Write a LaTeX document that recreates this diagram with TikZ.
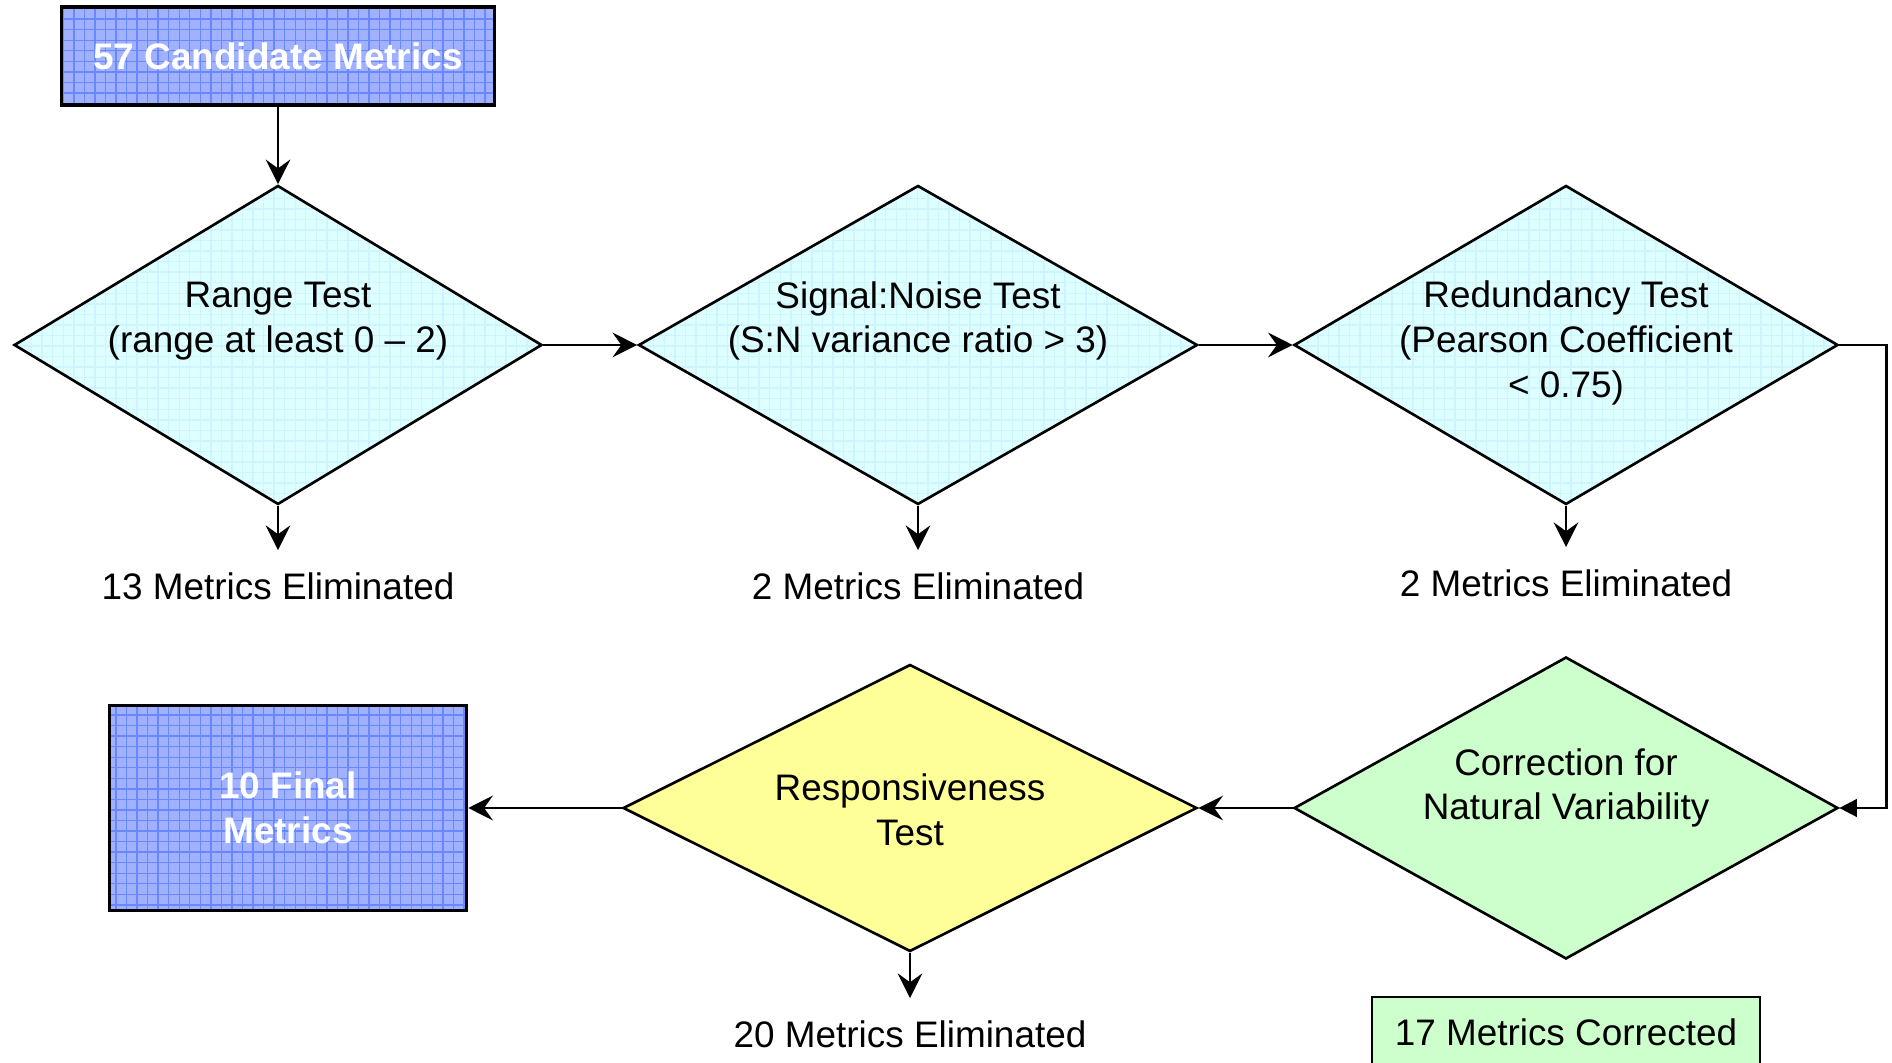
\documentclass[tikz,border=0pt]{standalone}
\usepackage{fontspec}
\setmainfont{Liberation Sans}
\usepackage{xcolor}
\usepackage{tikz}
\usetikzlibrary{positioning, arrows.meta, shapes.geometric, patterns}

\definecolor{gridblue}{RGB}{160,178,255}
\definecolor{gridline}{RGB}{105,135,255}
\definecolor{testcyan}{RGB}{222,255,255}
\definecolor{testcyanline}{RGB}{206,244,254}
\definecolor{corrgreen}{RGB}{204,255,204}
\definecolor{respyellow}{RGB}{255,255,153}

\begin{document}
\begin{tikzpicture}[node distance=6.4cm, every node/.style={font=\fontsize{10.5}{12.7}\selectfont}, align=center, line width=0.75pt, >={Stealth[length=7pt, width=7pt, inset=2.5pt]}]
    \tikzset{
        metricbox/.style={draw, line width=1pt, preaction={fill=gridblue}, pattern=grid, pattern color=gridline, text=white, font=\fontsize{10.5}{12.7}\selectfont\bfseries},
        testdiamond/.style={draw, diamond, inner sep=0pt, preaction={fill=testcyan}, pattern=grid, pattern color=testcyanline},
        elim/.style={inner sep=6pt}
    }
    \useasboundingbox (0,0) rectangle (18.92,10.63);

    \node (candidate) [metricbox, minimum width=4.33cm, minimum height=0.98cm] at (2.78,10.07) {57 Candidate Metrics};
    \node (range) [testdiamond, below of=candidate, node distance=2.89cm, minimum width=5.28cm, minimum height=3.19cm, label={[yshift=0.24cm]center:{Range Test\\(range at least 0 – 2)}}] {};
    \node (signal) [testdiamond, right of=range, minimum width=5.59cm, minimum height=3.19cm, label={[yshift=0.24cm]center:{Signal:Noise Test\\(S:N variance ratio > 3)}}] {};
    \node (redund) [testdiamond, right of=signal, xshift=0.08cm, minimum width=5.44cm, minimum height=3.19cm, label={[yshift=0.02cm]center:{Redundancy Test\\(Pearson Coefficient\\< 0.75)}}] {};
    \node (correct) [draw, diamond, inner sep=0pt, fill=corrgreen, below of=redund, node distance=4.63cm, minimum width=5.44cm, minimum height=3.02cm, label={[yshift=0.20cm]center:{Correction for\\Natural Variability}}] {};
    \node (respond) [draw, diamond, inner sep=0pt, fill=respyellow, left of=correct, node distance=6.56cm, minimum width=5.74cm, minimum height=2.87cm, label={[yshift=-0.02cm]center:{Responsiveness\\Test}}] {};
    \node (final) [metricbox, left of=respond, node distance=6.22cm, minimum width=3.57cm, minimum height=2.05cm] {10 Final\\Metrics};

    \node (elim1) [elim, below of=range, node distance=2.41cm] {13 Metrics Eliminated};
    \node (elim2) [elim, below of=signal, node distance=2.41cm] {2 Metrics Eliminated};
    \node (elim3) [elim, below of=redund, node distance=2.38cm] {2 Metrics Eliminated};
    \node (elim4) [elim, below of=respond, node distance=2.26cm] {20 Metrics Eliminated};
    \node (corrected) [draw, fill=corrgreen, below of=correct, node distance=2.24cm, minimum width=3.88cm, minimum height=0.70cm] {17 Metrics Corrected};

    % flow
    \draw[->] (candidate) -- (range);
    \draw[->] (range) -- (signal);
    \draw[->] (signal) -- (redund);
    \draw[-{Triangle[length=5pt, width=5pt]}] (redund.east) -- ++(0.47,0) |- (correct.east);
    \draw[->] (correct) -- (respond);
    \draw[->] (respond) -- (final);

    % eliminated
    \draw[->] (range) -- (elim1);
    \draw[->] (signal) -- (elim2);
    \draw[->] (redund) -- (elim3);
    \draw[->] (respond) -- (elim4);
\end{tikzpicture}
\end{document}
